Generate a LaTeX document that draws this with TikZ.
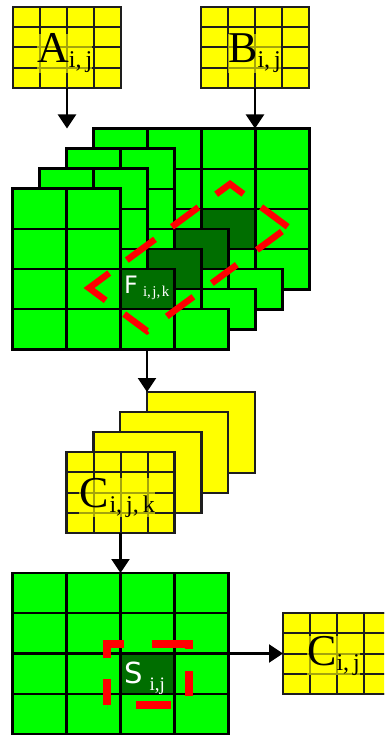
\documentclass[tikz,border=0pt]{standalone}
\usepackage{fontspec}
\setmainfont{Liberation Serif}
\newfontfamily\sansf{DejaVu Sans}
\usetikzlibrary{arrows.meta,calc}
\definecolor{yel}{RGB}{255,255,0}
\definecolor{grn}{RGB}{0,255,0}
\definecolor{dgrn}{RGB}{0,110,0}
\definecolor{rd}{RGB}{255,0,0}
\definecolor{ln}{RGB}{30,30,30}

\newcommand\mysub[1]{\raisebox{-5pt}{\fontsize{24}{24}\selectfont #1}}

\tikzset{
 layer/.style={anchor=north west, inner sep=0pt, outer sep=0pt, minimum width=216pt, minimum height=161pt},
 ybox/.style={anchor=north west, inner sep=0pt, outer sep=0pt, minimum width=108pt, minimum height=81pt, fill=yel, draw=ln, line width=2.4pt},
 gline/.style={draw=black, line width=2.4pt},
 yline/.style={draw=ln, line width=2pt},
 arr/.style={line width=2.2pt, -{Triangle[length=14pt,width=18pt]}},
 rdash/.style={draw=rd, line width=6.5pt, line join=miter,
   dash pattern=on 46pt off 21pt on 35pt off 21pt on 33pt off 22pt on 34pt off 22pt on 33pt off 8pt on 31pt off 25pt on 31pt off 23pt on 33pt off 24pt on 29pt off 23pt,
   dash phase=56pt},
 rdashs/.style={draw=rd, line width=7.5pt, line join=miter,
   dash pattern=on 35pt off 27pt on 25pt off 22pt on 42pt off 28pt on 31pt off 21pt on 26pt off 29pt,
   dash phase=257pt},
 ylab/.style={anchor=base west, inner sep=0pt, fill=yel, fill opacity=0.6, text opacity=1, font=\fontsize{44}{44}\selectfont},
 wlab/.style={anchor=base west, inner sep=0pt, text=white},
}

\newcommand\ygrid[1]{%
 \foreach \ff in {0.25,0.5,0.75}{%
  \draw[yline] ($(#1.north west)!\ff!(#1.north east)$) -- ($(#1.south west)!\ff!(#1.south east)$);
  \draw[yline] ($(#1.north west)!\ff!(#1.south west)$) -- ($(#1.north east)!\ff!(#1.south east)$);
 }%
 \draw[yline, line width=2.4pt] (#1.north west) rectangle (#1.south east);
}
\newcommand\gcell[4]{\filldraw[gline, fill=#4] ($(#1.north west)+(54*#3,40.25*#2)$) rectangle ++(54,40.25);}
\newcommand\glayer[1]{%
 \foreach \rr in {0,...,3}{\foreach \cc in {0,1}{\gcell{#1}{\rr}{\cc}{grn}}}%
 \gcell{#1}{3}{2}{grn}\gcell{#1}{3}{3}{grn}%
 \gcell{#1}{2}{2}{dgrn}%
}

\begin{document}
\begin{tikzpicture}[x=1pt,y=-1pt]
\useasboundingbox (0,0) rectangle (384,735);
\clip (0,0) rectangle (384,735);

% inputs A and B
\node[ybox] (A) at (13,7) {};
\ygrid{A}
\node[ylab] (Alab) at (37,63) {A\mysub{i,\kern4pt j}};
\node[ybox] (B) at (201,7) {};
\ygrid{B}
\node[ylab] (Blab) at (228,63) {B\mysub{i,\kern4pt j}};

% green stack F
\node[layer] (G3) at (93.5,128.5) {};
\node[layer] (G2) at (66.5,148.5) {};
\node[layer] (G1) at (39.5,168.5) {};
\node[layer] (G0) at (12.5,188.5) {};
\foreach \rr in {0,...,3}{\foreach \cc in {0,...,3}{\gcell{G3}{\rr}{\cc}{grn}}}
\gcell{G3}{2}{2}{dgrn}
\glayer{G2}
\glayer{G1}
\glayer{G0}
\node[wlab] (Flab) at (124,293) {\sansf\fontsize{24}{24}\selectfont F\kern5pt\raisebox{-3pt}{\rmfamily\fontsize{15}{15}\selectfont i,\kern1.5pt j,\kern1.5pt k}};

% red dashed band
\coordinate (dL) at (89,288);
\coordinate (dT) at (230,184);
\coordinate (dR) at (288,227);
\coordinate (dB) at (147,331);
\coordinate (dP) at ($(dL)!36pt!(dT)$);
\draw[rdash] (dP) -- (dT) -- (dR) -- (dB) -- (dL) -- (dP);

% arrows into the stack
\coordinate (a1) at (67,128.5);
\draw[arr] (A.south) -- (a1);
\draw[arr] (B.south) -- (B.south |- G3.north);

% yellow stack C_{i,j,k}
\node[ybox] (Y3) at (147,392) {};
\node[ybox] (Y2) at (120,412) {};
\node[ybox] (Y1) at (93.5,432) {};
\node[ybox] (Y0) at (66.5,452) {};
\ygrid{Y0}
\node[ylab] (Clab) at (79,507) {C\kern1pt\mysub{i,\kern4pt j,\kern4pt k}};
\draw[arr] (G0.south -| Y3.north west) -- (Y3.north west);

% sum grid S
\node[layer] (S) at (12.5,573) {};
\foreach \rr in {0,...,3}{\foreach \cc in {0,...,3}{\gcell{S}{\rr}{\cc}{grn}}}
\gcell{S}{2}{2}{dgrn}
\node[wlab] (Slab) at (124,683) {\sansf\fontsize{29}{29}\selectfont S\kern7pt\raisebox{-7pt}{\rmfamily\fontsize{19}{19}\selectfont i,j}};
\coordinate (sqBL) at (107,705);
\coordinate (sqBR) at (189,705);
\coordinate (sqTR) at (189,644);
\coordinate (sqTL) at (107,644);
\draw[rdashs] (sqBL) -- (sqBR) -- (sqTR) -- (sqTL) -- cycle;
\draw[arr] (Y0.south) -- (S.north);

% result C_{i,j}
\node[ybox] (Cij) at (283,613) {};
\ygrid{Cij}
\node[ylab] (Cijlab) at (307,665) {C\mysub{i,\kern4pt j}};
\draw[arr] (S.east) -- (Cij.west);
\end{tikzpicture}
\end{document}
